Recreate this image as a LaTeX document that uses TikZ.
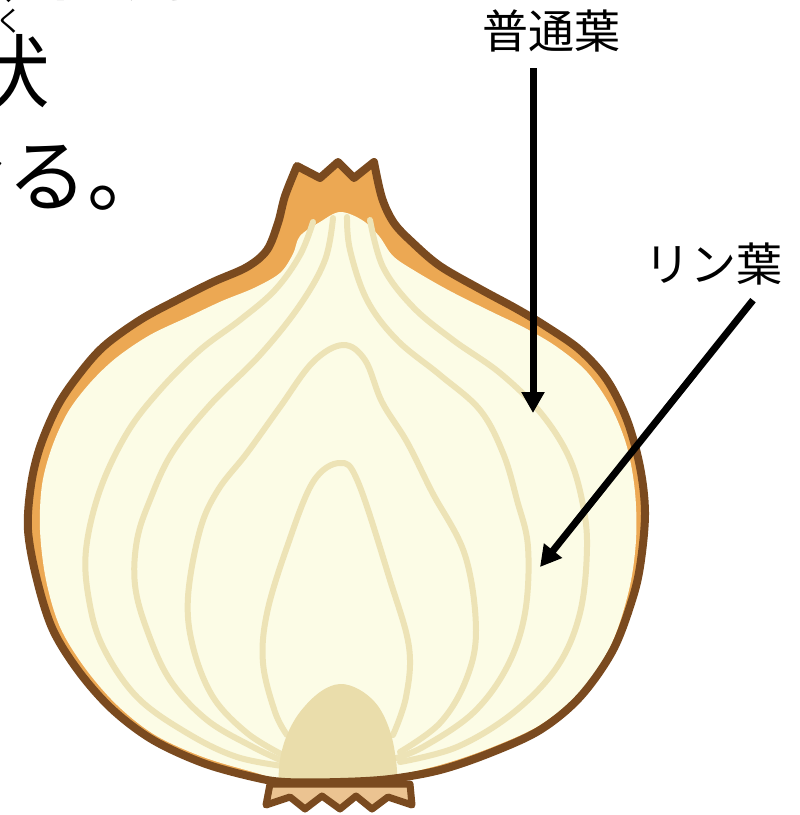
\documentclass[tikz,border=0pt]{standalone}
\usepackage{fontspec}
\usepackage{tikz}
\usetikzlibrary{arrows.meta}
\newfontfamily\jpfont{Noto Sans CJK JP}

\definecolor{skinbrown}{HTML}{7A4A1F}
\definecolor{skinorange}{HTML}{ECA853}
\definecolor{fleshcream}{HTML}{FCFCE6}
\definecolor{ringtan}{HTML}{EDE3B6}
\definecolor{basetan}{HTML}{EADDAB}
\definecolor{rootpeach}{HTML}{EBC391}

% outline of the cut bulb, crown first
\newcommand{\bulbpath}{(297,166) -- (320,178) -- (338,162) -- (354,178) -- (374,162)
  -- plot[smooth,tension=0.55] coordinates {(374,162) (382,198) (394,223) (413,243)
  (440,266) (480,289) (517,309) (547,327) (580,350) (607,380) (627,420) (640,467)
  (645,512) (641,560) (633,597) (613,650) (580,697) (540,730) (490,753) (440,770)
  (390,779) (340,782) (285,782) (253,777) (203,763) (153,740) (113,710) (80,673)
  (53,630) (37,580) (28,530) (31,485) (40,447) (57,407) (77,377) (103,347) (140,320)
  (177,300) (213,282) (247,267) (267,250) (278,223) (285,196) (297,166)} -- cycle}

\tikzset{
  ring/.style={ringtan, line width=6pt, line cap=round, line join=round},
  pointer/.style={line width=7pt, -{Triangle[length=21pt,width=22pt]}},
  tag/.style={font=\jpfont\fontsize{46}{46}\selectfont, inner sep=0pt, outer sep=0pt},
  bigtext/.style={font=\jpfont\fontsize{80}{80}\selectfont, inner sep=0pt, outer sep=0pt}
}

\begin{document}
\begin{tikzpicture}[x=1pt,y=-1pt]
\useasboundingbox (0,0) rectangle (800,815);
\fill[white] (0,0) rectangle (800,815);

% text running off the left edge
\node[bigtext] (lineone) at (75,-32) {たくわえて};
\node[bigtext] (linetwo) at (11,71) {伏};
\node[font=\jpfont\fontsize{28}{28}\selectfont, inner sep=0pt] (ruby) at (-4,21) {ふく};
\node[bigtext] (linethree) at (8,176) {になる。};

% flesh, rings and base plate
\begin{scope}
\clip \bulbpath;
\fill[skinorange] \bulbpath;
\fill[fleshcream] plot[smooth cycle,tension=0.55] coordinates {(300,236) (320,222)
  (340,212) (362,220) (379,236) (393,256) (415,271) (450,291) (490,311) (525,328)
  (557,347) (587,372) (611,407) (627,447) (635,492) (636,540) (629,590) (611,645)
  (580,692) (540,725) (490,748) (440,765) (390,776) (340,780) (285,780) (253,772)
  (203,757) (155,735) (117,705) (85,668) (60,627) (46,580) (40,530) (42,485) (52,447)
  (68,412) (90,383) (116,358) (150,335) (188,317) (222,301) (254,288) (280,273)
  (293,254)};
% outer leaves
\draw[ring] plot[smooth,tension=0.6] coordinates {(313,222) (300,255) (275,290)
  (240,320) (200,350) (160,390) (127,433) (100,490) (86,550) (89,600) (103,647)
  (137,697) (187,733) (237,757) (290,767)};
\draw[ring] plot[smooth,tension=0.6] coordinates {(370,220) (383,267) (413,307)
  (453,340) (500,373) (540,412) (568,455) (582,500) (587,547) (580,613) (557,667)
  (513,713) (457,747) (400,762)};
\draw[ring] plot[smooth,tension=0.6] coordinates {(333,218) (325,260) (300,305)
  (260,355) (210,405) (172,453) (150,500) (137,540) (135,585) (147,630) (170,680)
  (207,720) (253,747) (285,762)};
\draw[ring] plot[smooth,tension=0.6] coordinates {(347,217) (350,250) (367,300)
  (397,340) (440,375) (480,410) (503,453) (517,500) (528,547) (525,613) (507,667)
  (473,713) (423,747) (393,759)};
% inner leaves
\draw[ring] plot[smooth,tension=0.6] coordinates {(283,755) (247,733) (213,697)
  (193,647) (188,597) (200,530) (218,490) (247,453) (280,407) (313,362) (343,345)
  (365,360) (382,402) (407,442) (432,492) (465,555) (476,630) (466,680) (440,723)
  (400,752)};
\draw[ring] plot[smooth,tension=0.6] coordinates {(287,735) (275,712) (263,663)
  (267,613) (287,547) (313,482) (340,463) (358,482) (390,580) (409,647) (406,697)
  (393,735)};
\fill[basetan] plot[smooth,tension=0.6] coordinates {(278,790) (280,760) (287,735)
  (300,712) (320,692) (340,684) (360,690) (378,706) (390,731) (396,760) (398,790)};
\end{scope}

% roots
\filldraw[fill=rootpeach, draw=skinbrown, line width=7pt, line join=round]
  (270,784) -- (266,805) -- (290,797) -- (305,809) -- (322,796) -- (340,809)
  -- (356,796) -- (372,809) -- (388,797) -- (412,805) -- (410,784) -- cycle;

% skin outline
\draw[skinbrown, line width=8pt, line join=round] \bulbpath;

% labels and pointers
\node[tag] (futsu) at (551,31) {普通葉};
\node[tag] (rin) at (713,264) {リン葉};
\coordinate (futsutip) at (533,413);
\coordinate (rintip) at (540,567);
\coordinate (rintail) at ([xshift=40pt,yshift=-15pt]rin.south);
\draw[pointer, shorten <=16pt] (futsu.south -| futsutip) -- (futsutip);
\draw[pointer] (rintail) -- (rintip);
\end{tikzpicture}
\end{document}
